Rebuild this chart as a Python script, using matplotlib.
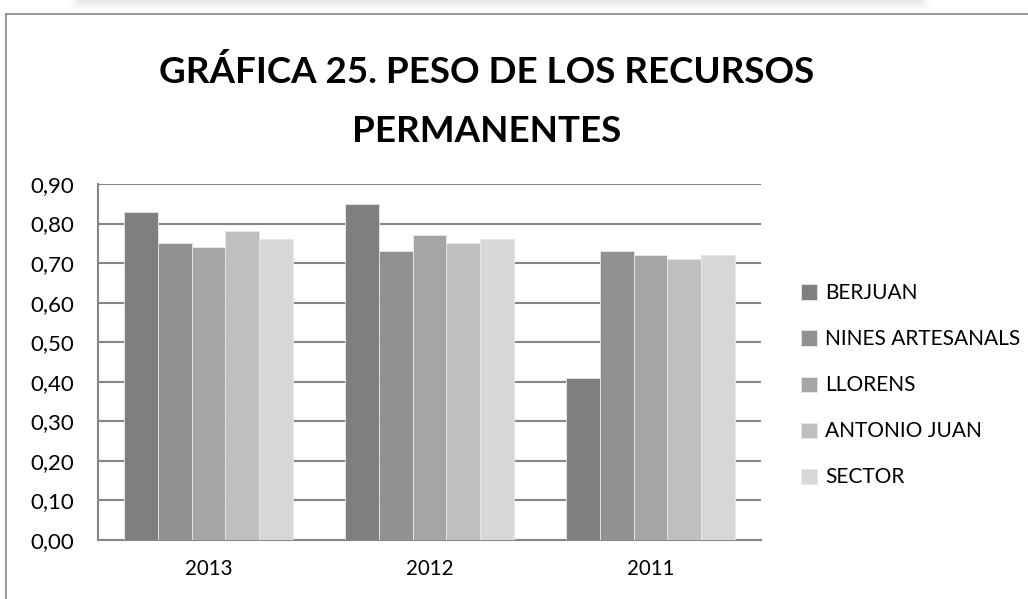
import matplotlib
matplotlib.use("Agg")
import matplotlib.pyplot as plt
import numpy as np
from matplotlib.lines import Line2D
from matplotlib.patches import Rectangle

categories = ["2013", "2012", "2011"]
series_names = ["BERJUAN", "NINES ARTESANALS", "LLORENS", "ANTONIO JUAN", "SECTOR"]
berjuan = [0.83, 0.85, 0.41]
nines = [0.75, 0.73, 0.73]
llorens = [0.74, 0.77, 0.72]
antonio = [0.78, 0.75, 0.71]
sector = [0.76, 0.76, 0.72]
series_values = [berjuan, nines, llorens, antonio, sector]
colors = ["#7f7f7f", "#919191", "#a5a5a5", "#bfbfbf", "#d7d7d7"]
yticks = [0.0, 0.1, 0.2, 0.3, 0.4, 0.5, 0.6, 0.7, 0.8, 0.9]

plt.rcParams['font.family'] = ['Lato', 'DejaVu Sans']

W, H = 1028, 599
fig = plt.figure(figsize=(W / 100, H / 100), dpi=100)

# shadow at top
for i in range(8):
    fig.add_artist(Rectangle((70 / W + i * 0.002, 1 - (9 - i) / H), (860 - i * 4) / W, 9 / H,
                             transform=fig.transFigure, facecolor="#000000", alpha=0.012,
                             edgecolor="none"))
# chart border (left and top)
fig.add_artist(Line2D([5.5 / W, 5.5 / W], [0, 1 - 14 / H], transform=fig.transFigure,
                      color="#868686", lw=1.2))
fig.add_artist(Line2D([5.5 / W, 1], [1 - 14 / H, 1 - 14 / H], transform=fig.transFigure,
                      color="#868686", lw=1.2))

ax = fig.add_axes([98 / W, (H - 540) / H, (761 - 98) / W, (540 - 184) / H])

n = len(series_names)
x = np.arange(len(categories))
group_w = 0.769
bw = group_w / n
for i, (name, vals, c) in enumerate(zip(series_names, series_values, colors)):
    ax.bar(x - group_w / 2 + bw * (i + 0.5), vals, width=bw, color=c, label=name,
           edgecolor="#e8e8e8", linewidth=0.6, zorder=3)

ax.set_xlim(-0.5, len(categories) - 0.5)
ax.set_ylim(0, 0.9)
ax.set_yticks(yticks)
ax.set_yticklabels([f"{v:.2f}".replace(".", ",") for v in yticks], fontsize=16)
ax.set_xticks(x)
ax.set_xticklabels(categories, fontsize=14.8)
ax.tick_params(axis="both", length=0)
ax.tick_params(axis="y", pad=17)
ax.tick_params(axis="x", pad=14)
ax.grid(axis="y", color="#868686", lw=1.5, zorder=0)
ax.set_axisbelow(True)
for s in ["top", "right"]:
    ax.spines[s].set_visible(False)
ax.spines["left"].set_color("#868686")
ax.spines["left"].set_linewidth(1.5)
ax.spines["bottom"].set_color("#868686")
ax.spines["bottom"].set_linewidth(1.5)

fig.text(487 / W, 1 - 72 / H, "GRÁFICA 25. PESO DE LOS RECURSOS", ha="center", va="center",
         fontsize=26.5, fontweight="bold")
fig.text(487 / W, 1 - 131 / H, "PERMANENTES", ha="center", va="center",
         fontsize=26.5, fontweight="bold")

leg = fig.legend(loc="upper left", bbox_to_anchor=(793 / W, 1 - 275 / H), frameon=False,
                 fontsize=15, handlelength=0.75, handleheight=0.75, handletextpad=0.4,
                 labelspacing=1.25, borderaxespad=0)

fig.savefig("out.png", dpi=100)
